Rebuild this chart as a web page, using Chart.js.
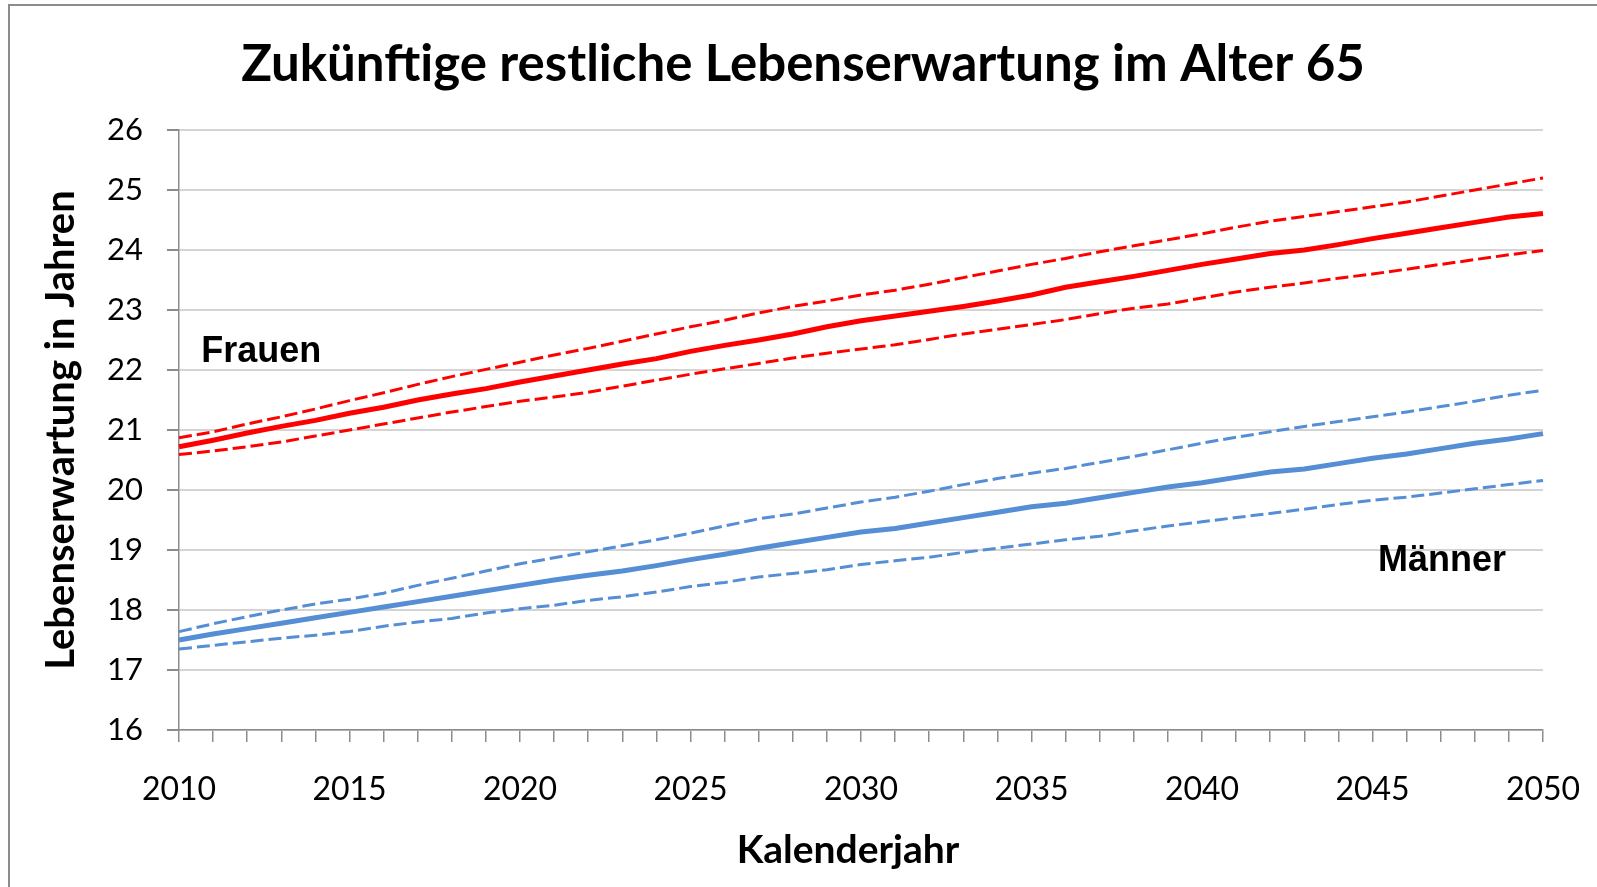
<!DOCTYPE html>
<html>
<head>
<meta charset="utf-8">
<script src="https://cdn.jsdelivr.net/npm/chart.js@4"></script>
<style>
  body { margin: 0; background: #fff; }
  #frame { position: absolute; left: 8px; top: 4px; width: 1600px; height: 900px;
           border-top: 2px solid #8c8c8c; border-left: 2px solid #8c8c8c; }
  #lifeChart { position: absolute; left: 0; top: 0; }
</style>
</head>
<body>
<div id="frame"></div>
<canvas id="lifeChart" width="1597" height="887"></canvas>
<script>
const years = []
for (let y = 2010; y <= 2050; y++) years.push(y)

const yTicks = [16, 17, 18, 19, 20, 21, 22, 23, 24, 25, 26]

// Frauen (red)
const frauenMitte = [20.72, 20.83, 20.95, 21.06, 21.16, 21.28, 21.38, 21.50, 21.60, 21.69,
  21.80, 21.90, 22.00, 22.10, 22.19, 22.31, 22.41, 22.50, 22.60, 22.72,
  22.82, 22.90, 22.98, 23.06, 23.15, 23.25, 23.38, 23.47, 23.56, 23.66,
  23.76, 23.85, 23.94, 24.00, 24.09, 24.19, 24.28, 24.37, 24.46, 24.55, 24.61]
const frauenOben = [20.87, 20.97, 21.10, 21.22, 21.35, 21.49, 21.62, 21.76, 21.89, 22.01,
  22.13, 22.25, 22.36, 22.48, 22.60, 22.72, 22.83, 22.95, 23.06, 23.15,
  23.25, 23.33, 23.43, 23.54, 23.65, 23.76, 23.86, 23.97, 24.07, 24.17,
  24.27, 24.38, 24.48, 24.56, 24.64, 24.72, 24.80, 24.90, 25.00, 25.10, 25.20]
const frauenUnten = [20.59, 20.65, 20.72, 20.80, 20.90, 21.00, 21.10, 21.20, 21.30, 21.39,
  21.48, 21.55, 21.63, 21.73, 21.83, 21.93, 22.02, 22.11, 22.20, 22.28,
  22.35, 22.42, 22.51, 22.60, 22.68, 22.76, 22.84, 22.94, 23.03, 23.10,
  23.20, 23.30, 23.38, 23.45, 23.53, 23.60, 23.68, 23.76, 23.84, 23.92, 23.99]

// Männer (blue)
const maennerMitte = [17.50, 17.60, 17.69, 17.78, 17.87, 17.96, 18.05, 18.14, 18.23, 18.32,
  18.41, 18.50, 18.58, 18.65, 18.74, 18.84, 18.93, 19.03, 19.12, 19.21,
  19.30, 19.36, 19.45, 19.54, 19.63, 19.72, 19.78, 19.87, 19.96, 20.05,
  20.12, 20.21, 20.30, 20.35, 20.44, 20.53, 20.60, 20.69, 20.78, 20.85, 20.94]
const maennerOben = [17.64, 17.77, 17.89, 18.00, 18.10, 18.18, 18.28, 18.41, 18.53, 18.65,
  18.77, 18.87, 18.97, 19.07, 19.17, 19.28, 19.40, 19.52, 19.60, 19.70,
  19.80, 19.88, 19.98, 20.09, 20.19, 20.28, 20.36, 20.46, 20.56, 20.67,
  20.78, 20.88, 20.97, 21.06, 21.14, 21.22, 21.30, 21.39, 21.48, 21.58, 21.66]
const maennerUnten = [17.35, 17.41, 17.47, 17.53, 17.58, 17.64, 17.73, 17.80, 17.86, 17.95,
  18.02, 18.08, 18.16, 18.22, 18.30, 18.39, 18.46, 18.55, 18.61, 18.67,
  18.76, 18.82, 18.88, 18.96, 19.03, 19.10, 19.17, 19.23, 19.32, 19.40,
  19.47, 19.54, 19.61, 19.68, 19.76, 19.83, 19.88, 19.95, 20.02, 20.09, 20.16]

// text labels inside the plot, placed in data units
const seriesLabels = [
  { text: "Frauen", year: 2010.65, value: 22.13 },
  { text: "Männer", year: 2045.16, value: 18.65 }
]

const chartTitle = "Zukünftige restliche Lebenserwartung im Alter 65"
const xTitle = "Kalenderjahr"

const RED = "#ff0000"
const BLUE = "#558ed5"

function line(data, color, dashed) {
  return {
    data: data,
    borderColor: color,
    backgroundColor: color,
    borderWidth: dashed ? 3 : 5,
    borderDash: dashed ? [13, 5] : [],
    borderCapStyle: "butt",
    pointRadius: 0,
    tension: 0,
    fill: false
  }
}

// title, x-axis title and the two series labels
const textPlugin = {
  id: "texts",
  afterDraw(chart) {
    const ctx = chart.ctx
    const x = chart.scales.x
    const y = chart.scales.y
    ctx.save()
    ctx.fillStyle = "#000"
    ctx.textAlign = "center"
    ctx.textBaseline = "middle"
    ctx.font = "bold 51px Lato"
    ctx.fillText(chartTitle, 803, 65)
    ctx.font = "bold 39px Lato"
    ctx.fillText(xTitle, 848, 850)

    ctx.font = "bold 36px 'Liberation Sans', Arial, sans-serif"
    ctx.textAlign = "left"
    ctx.textBaseline = "alphabetic"
    for (const l of seriesLabels) {
      // category scale: index = year - first year
      const px = x.getPixelForValue(l.year - years[0])
      ctx.fillText(l.text, px, y.getPixelForValue(l.value))
    }
    ctx.restore()
  }
}

new Chart(document.getElementById("lifeChart"), {
  type: "line",
  data: {
    labels: years,
    datasets: [
      line(frauenOben, RED, true),
      line(frauenUnten, RED, true),
      line(frauenMitte, RED, false),
      line(maennerOben, BLUE, true),
      line(maennerUnten, BLUE, true),
      line(maennerMitte, BLUE, false)
    ]
  },
  options: {
    responsive: false,
    animation: false,
    layout: { padding: { left: 0, right: 54, top: 130, bottom: 0 } },
    plugins: {
      legend: { display: false },
      tooltip: { enabled: false },
      title: { display: false }
    },
    scales: {
      x: {
        type: "category",
        offset: false,
        border: { color: "#8c8c8c", width: 1.5 },
        grid: { drawOnChartArea: false, tickLength: 12, tickColor: "#8c8c8c", lineWidth: 1.5 },
        ticks: {
          autoSkip: false,
          maxRotation: 0,
          padding: 28,
          color: "#000",
          font: { family: "Lato", size: 32 },
          callback: function(value, index) {
            return years[index] % 5 === 0 ? String(years[index]) : ""
          }
        },
        afterFit(scale) {
          scale.height = 157
          scale.paddingLeft = 0
          scale.paddingRight = 0
        }
      },
      y: {
        min: yTicks[0],
        max: yTicks[yTicks.length - 1],
        border: { color: "#8c8c8c", width: 1.5 },
        grid: { color: "#d4d4d4", lineWidth: 2, tickLength: 12, tickColor: "#8c8c8c" },
        afterBuildTicks(scale) { scale.ticks = yTicks.map(v => ({ value: v })) },
        ticks: {
          padding: 24,
          color: "#000",
          font: { family: "Lato", size: 31 }
        },
        title: {
          display: true,
          text: "Lebenserwartung in Jahren",
          color: "#000",
          font: { family: "Lato", weight: "bold", size: 40 },
          padding: { top: 37, bottom: 0 }
        },
        afterFit(scale) { scale.width = 179 }
      }
    }
  },
  plugins: [textPlugin]
})
</script>
</body>
</html>
